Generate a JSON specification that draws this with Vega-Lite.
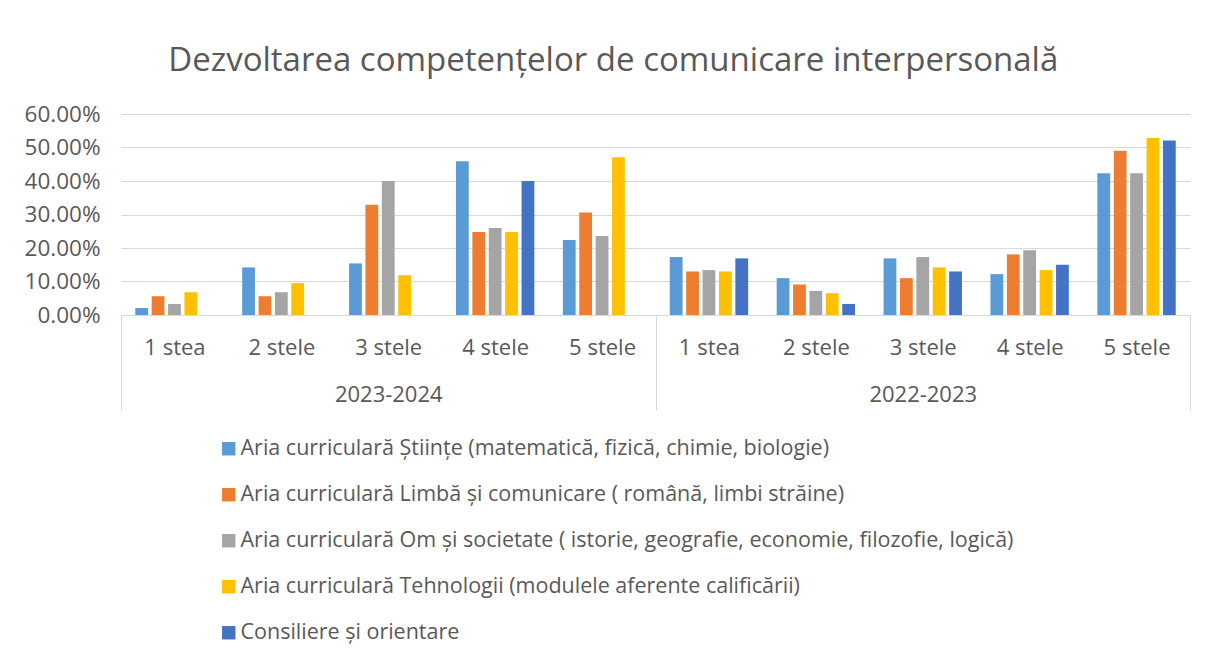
{
  "$schema": "https://vega.github.io/schema/vega-lite/v6.json",
  "width": 1069,
  "height": 201,
  "autosize": "none",
  "padding": {"left": 121, "top": 114, "right": 16, "bottom": 345},
  "background": "white",
  "config": {
    "font": "Open Sans",
    "view": {"stroke": null},
    "title": {"font": "Open Sans", "fontSize": 33, "fontWeight": "normal", "color": "#595959"}
  },
  "title": {"text": "Dezvoltarea competențelor de comunicare interpersonală", "anchor": "middle", "frame": "bounds", "offset": 25, "dx": 6},
  "data": {
    "values": [
      {"year": "2023-2024", "star": "1 stea", "series": "Aria curriculară Științe (matematică, fizică, chimie, biologie)", "value": 0.021},
      {"year": "2023-2024", "star": "1 stea", "series": "Aria curriculară Limbă și comunicare ( română, limbi străine)", "value": 0.056},
      {"year": "2023-2024", "star": "1 stea", "series": "Aria curriculară Om și societate ( istorie, geografie, economie, filozofie, logică)", "value": 0.033},
      {"year": "2023-2024", "star": "1 stea", "series": "Aria curriculară Tehnologii (modulele aferente calificării)", "value": 0.068},
      {"year": "2023-2024", "star": "1 stea", "series": "Consiliere și orientare", "value": 0},
      {"year": "2023-2024", "star": "2 stele", "series": "Aria curriculară Științe (matematică, fizică, chimie, biologie)", "value": 0.142},
      {"year": "2023-2024", "star": "2 stele", "series": "Aria curriculară Limbă și comunicare ( română, limbi străine)", "value": 0.056},
      {"year": "2023-2024", "star": "2 stele", "series": "Aria curriculară Om și societate ( istorie, geografie, economie, filozofie, logică)", "value": 0.068},
      {"year": "2023-2024", "star": "2 stele", "series": "Aria curriculară Tehnologii (modulele aferente calificării)", "value": 0.095},
      {"year": "2023-2024", "star": "2 stele", "series": "Consiliere și orientare", "value": 0},
      {"year": "2023-2024", "star": "3 stele", "series": "Aria curriculară Științe (matematică, fizică, chimie, biologie)", "value": 0.154},
      {"year": "2023-2024", "star": "3 stele", "series": "Aria curriculară Limbă și comunicare ( română, limbi străine)", "value": 0.329},
      {"year": "2023-2024", "star": "3 stele", "series": "Aria curriculară Om și societate ( istorie, geografie, economie, filozofie, logică)", "value": 0.40},
      {"year": "2023-2024", "star": "3 stele", "series": "Aria curriculară Tehnologii (modulele aferente calificării)", "value": 0.119},
      {"year": "2023-2024", "star": "3 stele", "series": "Consiliere și orientare", "value": 0},
      {"year": "2023-2024", "star": "4 stele", "series": "Aria curriculară Științe (matematică, fizică, chimie, biologie)", "value": 0.459},
      {"year": "2023-2024", "star": "4 stele", "series": "Aria curriculară Limbă și comunicare ( română, limbi străine)", "value": 0.248},
      {"year": "2023-2024", "star": "4 stele", "series": "Aria curriculară Om și societate ( istorie, geografie, economie, filozofie, logică)", "value": 0.26},
      {"year": "2023-2024", "star": "4 stele", "series": "Aria curriculară Tehnologii (modulele aferente calificării)", "value": 0.248},
      {"year": "2023-2024", "star": "4 stele", "series": "Consiliere și orientare", "value": 0.40},
      {"year": "2023-2024", "star": "5 stele", "series": "Aria curriculară Științe (matematică, fizică, chimie, biologie)", "value": 0.224},
      {"year": "2023-2024", "star": "5 stele", "series": "Aria curriculară Limbă și comunicare ( română, limbi străine)", "value": 0.306},
      {"year": "2023-2024", "star": "5 stele", "series": "Aria curriculară Om și societate ( istorie, geografie, economie, filozofie, logică)", "value": 0.236},
      {"year": "2023-2024", "star": "5 stele", "series": "Aria curriculară Tehnologii (modulele aferente calificării)", "value": 0.471},
      {"year": "2023-2024", "star": "5 stele", "series": "Consiliere și orientare", "value": 0},
      {"year": "2022-2023", "star": "1 stea", "series": "Aria curriculară Științe (matematică, fizică, chimie, biologie)", "value": 0.173},
      {"year": "2022-2023", "star": "1 stea", "series": "Aria curriculară Limbă și comunicare ( română, limbi străine)", "value": 0.13},
      {"year": "2022-2023", "star": "1 stea", "series": "Aria curriculară Om și societate ( istorie, geografie, economie, filozofie, logică)", "value": 0.134},
      {"year": "2022-2023", "star": "1 stea", "series": "Aria curriculară Tehnologii (modulele aferente calificării)", "value": 0.13},
      {"year": "2022-2023", "star": "1 stea", "series": "Consiliere și orientare", "value": 0.169},
      {"year": "2022-2023", "star": "2 stele", "series": "Aria curriculară Științe (matematică, fizică, chimie, biologie)", "value": 0.11},
      {"year": "2022-2023", "star": "2 stele", "series": "Aria curriculară Limbă și comunicare ( română, limbi străine)", "value": 0.091},
      {"year": "2022-2023", "star": "2 stele", "series": "Aria curriculară Om și societate ( istorie, geografie, economie, filozofie, logică)", "value": 0.072},
      {"year": "2022-2023", "star": "2 stele", "series": "Aria curriculară Tehnologii (modulele aferente calificării)", "value": 0.065},
      {"year": "2022-2023", "star": "2 stele", "series": "Consiliere și orientare", "value": 0.033},
      {"year": "2022-2023", "star": "3 stele", "series": "Aria curriculară Științe (matematică, fizică, chimie, biologie)", "value": 0.169},
      {"year": "2022-2023", "star": "3 stele", "series": "Aria curriculară Limbă și comunicare ( română, limbi străine)", "value": 0.11},
      {"year": "2022-2023", "star": "3 stele", "series": "Aria curriculară Om și societate ( istorie, geografie, economie, filozofie, logică)", "value": 0.173},
      {"year": "2022-2023", "star": "3 stele", "series": "Aria curriculară Tehnologii (modulele aferente calificării)", "value": 0.142},
      {"year": "2022-2023", "star": "3 stele", "series": "Consiliere și orientare", "value": 0.13},
      {"year": "2022-2023", "star": "4 stele", "series": "Aria curriculară Științe (matematică, fizică, chimie, biologie)", "value": 0.122},
      {"year": "2022-2023", "star": "4 stele", "series": "Aria curriculară Limbă și comunicare ( română, limbi străine)", "value": 0.181},
      {"year": "2022-2023", "star": "4 stele", "series": "Aria curriculară Om și societate ( istorie, geografie, economie, filozofie, logică)", "value": 0.193},
      {"year": "2022-2023", "star": "4 stele", "series": "Aria curriculară Tehnologii (modulele aferente calificării)", "value": 0.134},
      {"year": "2022-2023", "star": "4 stele", "series": "Consiliere și orientare", "value": 0.15},
      {"year": "2022-2023", "star": "5 stele", "series": "Aria curriculară Științe (matematică, fizică, chimie, biologie)", "value": 0.423},
      {"year": "2022-2023", "star": "5 stele", "series": "Aria curriculară Limbă și comunicare ( română, limbi străine)", "value": 0.49},
      {"year": "2022-2023", "star": "5 stele", "series": "Aria curriculară Om și societate ( istorie, geografie, economie, filozofie, logică)", "value": 0.423},
      {"year": "2022-2023", "star": "5 stele", "series": "Aria curriculară Tehnologii (modulele aferente calificării)", "value": 0.528},
      {"year": "2022-2023", "star": "5 stele", "series": "Consiliere și orientare", "value": 0.521}
    ]
  },
  "transform": [{"calculate": "datum.year + '|' + datum.star", "as": "category"}],
  "mark": {"type": "bar"},
  "encoding": {
    "x": {
      "field": "category",
      "type": "nominal",
      "scale": {
        "domain": ["2023-2024|1 stea", "2023-2024|2 stele", "2023-2024|3 stele", "2023-2024|4 stele", "2023-2024|5 stele", "2022-2023|1 stea", "2022-2023|2 stele", "2022-2023|3 stele", "2022-2023|4 stele", "2022-2023|5 stele"],
        "paddingInner": 0,
        "paddingOuter": 0
      },
      "axis": {
        "title": null,
        "labelAngle": 0,
        "labelFont": "Open Sans",
        "labelFontSize": 22,
        "labelColor": "#595959",
        "labelExpr": "isString(datum.value) ? (split(datum.value, '|')[1] == '3 stele' ? [split(datum.value, '|')[1], split(datum.value, '|')[0]] : split(datum.value, '|')[1]) : ''",
        "labelLineHeight": 47,
        "labelBaseline": "top",
        "labelPadding": -73,
        "domainColor": "#d9d9d9",
        "domainWidth": 1,
        "ticks": true,
        "tickBand": "extent",
        "tickSize": 95,
        "tickColor": "#d9d9d9",
        "tickOpacity": {"condition": {"test": "!isString(datum.value) || test(/5 stele/, datum.value) || datum.extra", "value": 1}, "value": 0},
        "grid": false
      }
    },
    "xOffset": {
      "field": "series",
      "type": "nominal",
      "scale": {
        "domain": ["Aria curriculară Științe (matematică, fizică, chimie, biologie)", "Aria curriculară Limbă și comunicare ( română, limbi străine)", "Aria curriculară Om și societate ( istorie, geografie, economie, filozofie, logică)", "Aria curriculară Tehnologii (modulele aferente calificării)", "Consiliere și orientare"],
        "paddingInner": 0.22,
        "paddingOuter": 0.87
      }
    },
    "y": {
      "field": "value",
      "type": "quantitative",
      "scale": {"domain": [0, 0.6], "nice": false},
      "axis": {
        "title": null,
        "values": [0, 0.1, 0.2, 0.3, 0.4, 0.5, 0.6],
        "format": ".2%",
        "labelFont": "Open Sans",
        "labelFontSize": 22.5,
        "labelColor": "#595959",
        "labelPadding": 21,
        "ticks": false,
        "domain": false,
        "grid": true,
        "gridColor": "#d9d9d9",
        "gridWidth": 1
      }
    },
    "color": {
      "field": "series",
      "type": "nominal",
      "scale": {
        "domain": ["Aria curriculară Științe (matematică, fizică, chimie, biologie)", "Aria curriculară Limbă și comunicare ( română, limbi străine)", "Aria curriculară Om și societate ( istorie, geografie, economie, filozofie, logică)", "Aria curriculară Tehnologii (modulele aferente calificării)", "Consiliere și orientare"],
        "range": ["#5B9BD5", "#ED7D31", "#A5A5A5", "#FFC000", "#4472C4"]
      },
      "legend": {
        "title": null,
        "orient": "none",
        "legendX": 97,
        "legendY": 324,
        "direction": "vertical",
        "symbolType": "square",
        "symbolSize": 180,
        "symbolStrokeWidth": 0,
        "labelFont": "Open Sans",
        "labelFontSize": 21.5,
        "labelColor": "#595959",
        "labelLimit": 0,
        "labelOffset": 1,
        "rowPadding": 23
      }
    }
  }
}
